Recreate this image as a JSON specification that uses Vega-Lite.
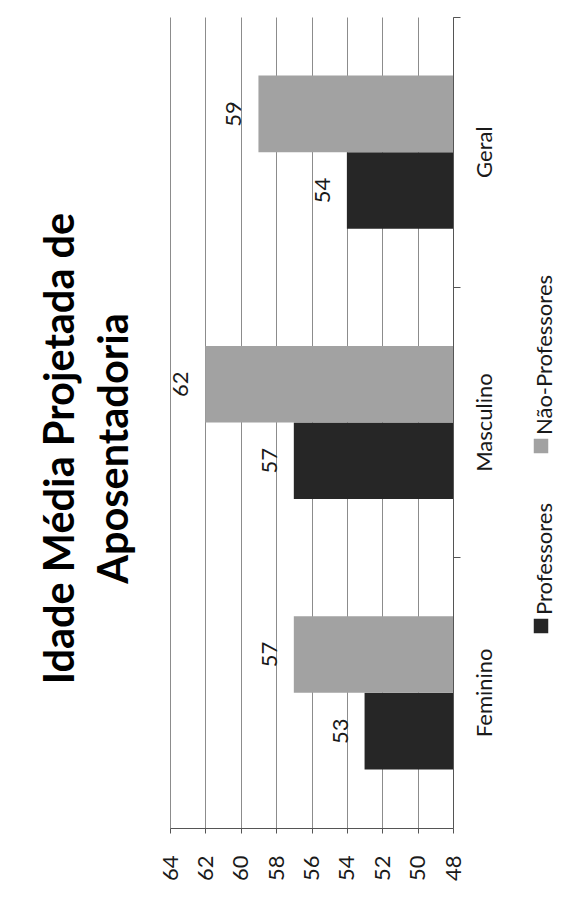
{
  "$schema": "https://vega.github.io/schema/vega-lite/v6.json",
  "width": 283,
  "height": 811,
  "autosize": "none",
  "padding": {"left": 170, "top": 17, "right": 114, "bottom": 82},
  "background": "white",
  "config": {
    "view": {"stroke": null},
    "font": "Lato",
    "axis": {"labelFont": "Lato", "labelColor": "#1a1a1a"}
  },
  "title": {
    "text": ["Idade Média Projetada de", "Aposentadoria"],
    "orient": "left",
    "anchor": "middle",
    "font": "Lato",
    "fontSize": 41.5,
    "fontWeight": "bold",
    "color": "#000000",
    "lineHeight": 54,
    "offset": 23,
    "dx": -26
  },
  "data": {
    "values": [
      {"categoria": "Feminino", "grupo": "Professores", "idade": 53},
      {"categoria": "Feminino", "grupo": "Não-Professores", "idade": 57},
      {"categoria": "Masculino", "grupo": "Professores", "idade": 57},
      {"categoria": "Masculino", "grupo": "Não-Professores", "idade": 62},
      {"categoria": "Geral", "grupo": "Professores", "idade": 54},
      {"categoria": "Geral", "grupo": "Não-Professores", "idade": 59}
    ]
  },
  "encoding": {
    "y": {
      "field": "categoria",
      "type": "nominal",
      "sort": ["Geral", "Masculino", "Feminino"],
      "scale": {"paddingInner": 0, "paddingOuter": 0},
      "axis": {
        "orient": "right",
        "title": null,
        "labelAngle": 270,
        "labelAlign": "center",
        "labelBaseline": "top",
        "labelFontSize": 22,
        "labelPadding": 14,
        "tickSize": 7,
        "bandPosition": 0,
        "tickColor": "#555555",
        "domainColor": "#555555",
        "grid": false
      }
    },
    "yOffset": {
      "field": "grupo",
      "type": "nominal",
      "sort": ["Não-Professores", "Professores"],
      "scale": {"paddingInner": 0, "paddingOuter": 0.765}
    },
    "x": {
      "field": "idade",
      "type": "quantitative",
      "scale": {"domain": [48, 64], "reverse": true, "zero": false, "nice": false},
      "axis": {
        "orient": "bottom",
        "title": null,
        "values": [48, 50, 52, 54, 56, 58, 60, 62, 64],
        "labelAngle": 270,
        "labelAlign": "right",
        "labelBaseline": "middle",
        "labelFontSize": 22,
        "labelPadding": 22,
        "tickSize": 5,
        "tickColor": "#555555",
        "domainColor": "#555555",
        "grid": true,
        "gridColor": "#8c8c8c",
        "gridWidth": 1
      }
    }
  },
  "layer": [
    {
      "mark": {"type": "bar"},
      "encoding": {
        "x2": {"datum": 48},
        "color": {
          "field": "grupo",
          "type": "nominal",
          "scale": {"domain": ["Não-Professores", "Professores"], "range": ["#a2a2a2", "#262626"]},
          "legend": {
            "orient": "none",
            "legendX": 360,
            "legendY": 418,
            "direction": "vertical",
            "title": null,
            "symbolType": "square",
            "symbolSize": 210,
            "symbolStrokeWidth": 0,
            "labelFontSize": 22,
            "labelFont": "Lato",
            "labelColor": "#1a1a1a",
            "labelOffset": 0,
            "labelLimit": 400,
            "rowPadding": 49,
            "encode": {
              "labels": {
                "update": {
                  "angle": {"value": 270},
                  "align": {"value": "left"},
                  "baseline": {"value": "middle"},
                  "dx": {"value": 11},
                  "dy": {"value": -7}
                }
              }
            }
          }
        }
      }
    },
    {
      "mark": {
        "type": "text",
        "angle": 270,
        "align": "center",
        "baseline": "alphabetic",
        "dy": -17,
        "fontSize": 22,
        "font": "Lato",
        "color": "#1a1a1a"
      },
      "encoding": {
        "text": {"field": "idade", "type": "quantitative"}
      }
    }
  ]
}
